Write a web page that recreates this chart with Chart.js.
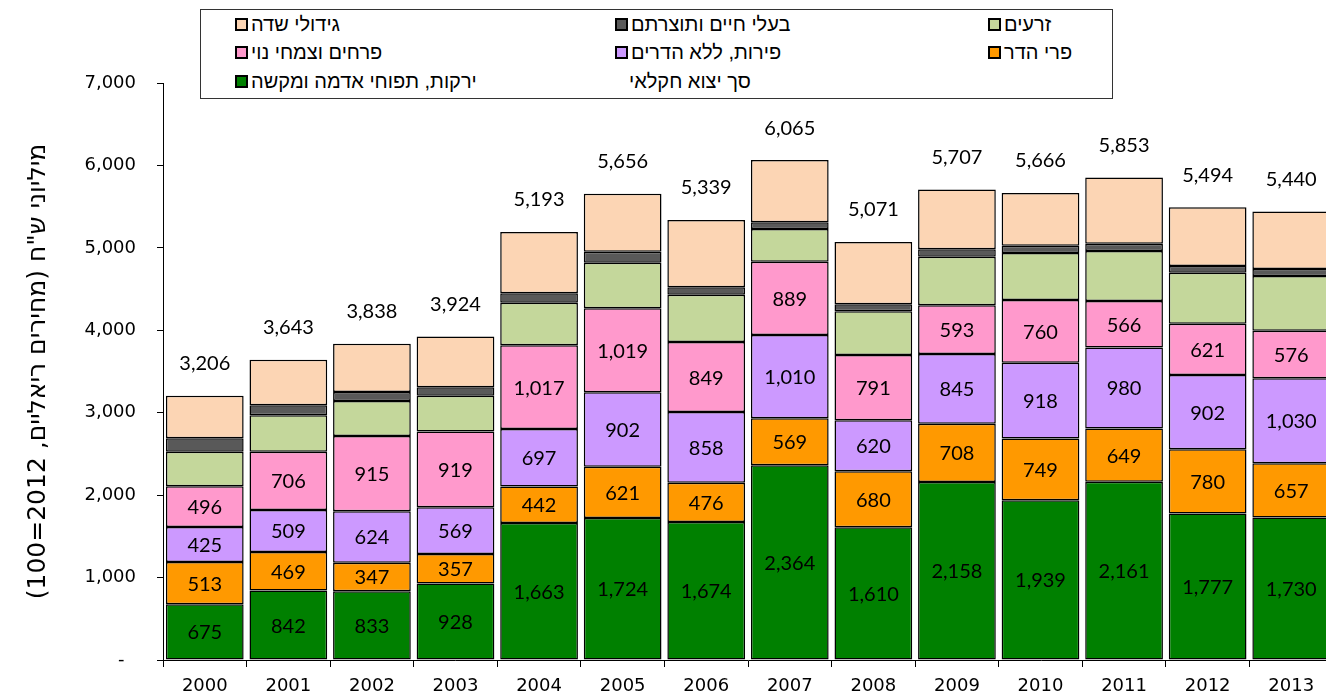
<!DOCTYPE html>
<html>
<head>
<meta charset="utf-8">
<script src="https://cdn.jsdelivr.net/npm/chart.js@4.4.1/dist/chart.umd.min.js"></script>
<style>
html, body { margin: 0; padding: 0; background: #fff; overflow: hidden; }
#wrap { position: relative; width: 1336px; height: 696px; }
#legend { position: absolute; left: 200px; top: 9px; width: 911px; height: 88px; border: 1px solid #333; background: #fff;
  font-family: "Liberation Sans", Arial, sans-serif; font-size: 20px; color: #000; }
.item { position: absolute; display: flex; align-items: center; white-space: nowrap; height: 24px; }
.swatch { width: 9px; height: 9px; border: 2px solid #000; margin-right: 3px; }
</style>
</head>
<body>
<div id="wrap">
  <canvas id="myChart" width="1336" height="696" dir="rtl"></canvas>
  <div id="legend"></div>
</div>
<script>
// data
var years = ['2000', '2001', '2002', '2003', '2004', '2005', '2006', '2007', '2008', '2009', '2010', '2011', '2012', '2013'];
var vegetables = [675, 842, 833, 928, 1663, 1724, 1674, 2364, 1610, 2158, 1939, 2161, 1777, 1730];
var citrus = [513, 469, 347, 357, 442, 621, 476, 569, 680, 708, 749, 649, 780, 657];
var fruits = [425, 509, 624, 569, 697, 902, 858, 1010, 620, 845, 918, 980, 902, 1030];
var flowers = [496, 706, 915, 919, 1017, 1019, 849, 889, 791, 593, 760, 566, 621, 576];
var seeds = [418, 443, 423, 434, 516, 554, 575, 397, 529, 589, 571, 606, 619, 666];
var livestock = [163, 121, 109, 101, 113, 134, 89, 81, 85, 89, 89, 89, 81, 84];
var fieldCrops = [516, 553, 587, 616, 745, 702, 818, 755, 756, 725, 640, 802, 714, 697];
var totals = [3206, 3643, 3838, 3924, 5193, 5656, 5339, 6065, 5071, 5707, 5666, 5853, 5494, 5440];
var yTicks = [0, 1000, 2000, 3000, 4000, 5000, 6000, 7000];

var totalLabel = 'סך יצוא חקלאי';
var yTitle = 'מיליוני ש"ח (מחירים ריאליים, 2012=100)';

function fmt(v) {
    return v === 0 ? '-' : v.toLocaleString('en-US');
}

function makeSet(label, data, color, showValues) {
    return {
        label: label,
        data: data,
        backgroundColor: color,
        borderColor: '#000',
        borderWidth: 1.5,
        borderSkipped: false,
        barPercentage: 0.93,
        categoryPercentage: 1,
        showValues: showValues
    };
}

var datasets = [
    makeSet('ירקות, תפוחי אדמה ומקשה', vegetables, '#008000', true),
    makeSet('פרי הדר', citrus, '#FF9900', true),
    makeSet('פירות, ללא הדרים', fruits, '#CC99FF', true),
    makeSet('פרחים וצמחי נוי', flowers, '#FF99CC', true),
    makeSet('זרעים', seeds, '#C4D79B', false),
    makeSet('בעלי חיים ותוצרתם', livestock, '#595959', false),
    makeSet('גידולי שדה', fieldCrops, '#FCD5B4', false)
];

// values inside the bars and totals above them
var labelPlugin = {
    id: 'barLabels',
    afterDatasetsDraw: function(chart) {
        var ctx = chart.ctx;
        ctx.save();
        ctx.font = '20px Lato';
        ctx.fillStyle = '#000';
        ctx.textAlign = 'center';
        ctx.textBaseline = 'middle';
        chart.data.datasets.forEach(function(ds, i) {
            if (!ds.showValues) return;
            chart.getDatasetMeta(i).data.forEach(function(bar, j) {
                ctx.fillText(fmt(ds.data[j]), bar.x, (bar.y + bar.base) / 2 + 1);
            });
        });
        var yScale = chart.scales.y;
        chart.getDatasetMeta(0).data.forEach(function(bar, j) {
            ctx.fillText(fmt(totals[j]), bar.x, yScale.getPixelForValue(totals[j]) - 32);
        });
        ctx.restore();
    }
};

var ctx = document.getElementById('myChart').getContext('2d');
var myChart = new Chart(ctx, {
    type: 'bar',
    data: { labels: years, datasets: datasets },
    plugins: [labelPlugin],
    options: {
        responsive: false,
        animation: false,
        layout: { padding: { top: 83, right: 3, bottom: 0, left: 0 } },
        plugins: { legend: { display: false }, tooltip: { enabled: false } },
        scales: {
            x: {
                stacked: true,
                grid: { offset: true, drawOnChartArea: false, tickLength: 7, color: '#000' },
                border: { color: '#000', width: 1 },
                ticks: { color: '#000', font: { family: 'DejaVu Sans', size: 18 }, padding: 9 },
                afterFit: function(scale) { scale.height = 36; }
            },
            y: {
                stacked: true,
                min: 0,
                max: 7000,
                afterBuildTicks: function(scale) {
                    scale.ticks = yTicks.map(function(v) { return { value: v }; });
                },
                grid: { drawOnChartArea: false, tickLength: 6, color: '#000' },
                border: { color: '#000', width: 1 },
                ticks: {
                    color: '#000',
                    font: { family: 'DejaVu Sans', size: 18 },
                    padding: 21,
                    // dash for zero sits a bit left, as in accounting format
                    callback: function(v) { return v === 0 ? '\u2007-' : fmt(v); }
                },
                title: {
                    display: true,
                    text: yTitle,
                    color: '#000',
                    font: { family: 'DejaVu Sans', size: 25 },
                    padding: { top: 23, bottom: 0 }
                },
                afterFit: function(scale) { scale.width = 163; }
            }
        }
    }
});

// legend laid out like the original: three columns, three rows
var legendOrder = [6, 5, 4, 3, 2, 1, 0, -1];
var colX = [34, 414, 787];
var rowY = [2, 30, 59];
var legend = document.getElementById('legend');
legendOrder.forEach(function(idx, n) {
    var item = document.createElement('div');
    item.className = 'item';
    item.style.left = colX[n % 3] + 'px';
    item.style.top = rowY[Math.floor(n / 3)] + 'px';
    var text = document.createElement('span');
    text.dir = 'rtl';
    if (idx >= 0) {
        var box = document.createElement('span');
        box.className = 'swatch';
        box.style.background = datasets[idx].backgroundColor;
        item.appendChild(box);
        text.textContent = datasets[idx].label;
    } else {
        item.style.left = (colX[n % 3] + 14) + 'px';
        text.textContent = totalLabel;
    }
    item.appendChild(text);
    legend.appendChild(item);
});
</script>
</body>
</html>
